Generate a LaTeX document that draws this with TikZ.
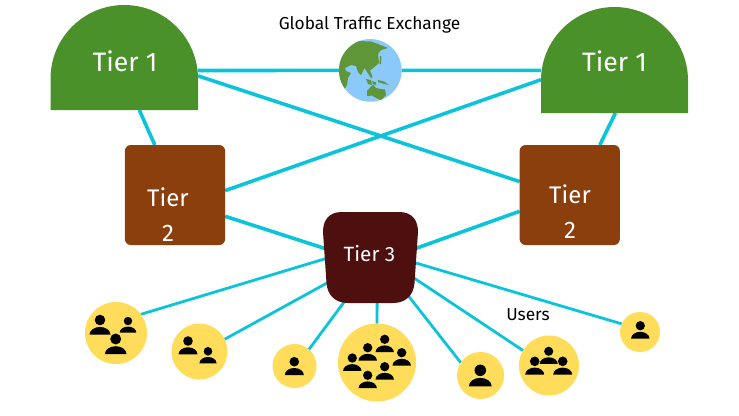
\documentclass[tikz,border=0pt]{standalone}
\usepackage{fontspec}
\setmainfont{Fira Sans}
\usetikzlibrary{backgrounds}
\definecolor{tgreen}{HTML}{4A9129}
\definecolor{tbrown}{HTML}{8A3F0D}
\definecolor{tdark}{HTML}{4E0F0F}
\definecolor{tyellow}{HTML}{FFDC5A}
\definecolor{tcyan}{HTML}{0BC4D9}
\definecolor{tblue}{HTML}{8BC9FB}
\definecolor{tland}{HTML}{5F9638}
\tikzset{
  link/.style={draw=tcyan,line width=2.7pt},
  thinlink/.style={draw=tcyan,line width=2.1pt},
  bounds/.style={rectangle,inner sep=0pt,outer sep=0pt,minimum width=#1},
  tiertwo/.style={rectangle,rounded corners=4.5pt,fill=tbrown,inner sep=0pt,outer sep=0pt,minimum width=75.2pt,minimum height=75pt},
  usr/.style={circle,fill=tyellow,inner sep=0pt,outer sep=0pt,minimum size=#1*1.5pt},
  biglabel/.style={text=white,inner sep=0pt,font=\fontsize{20}{26}\selectfont,align=center},
  midlabel/.style={text=white,inner sep=0pt,font=\fontsize{15.5}{18}\selectfont},
  caption/.style={text=black,inner sep=0pt,font=\fontsize{13}{15}\selectfont},
}
\newcommand{\person}[3]{%
  \begin{scope}[shift={(#1,#2)},scale=#3]
    \fill[black] (0,0) circle[radius=4.8];
    \fill[black] (-9.5,13.3) arc[start angle=180,end angle=360,x radius=9.5,y radius=7] -- cycle;
  \end{scope}}
\begin{document}
\begin{tikzpicture}[x=0.75pt,y=-0.75pt]
\useasboundingbox (0,0) rectangle (739,415);
% tier 1 shapes
\fill[tgreen] (50.5,110) -- (50.5,78.75) arc[start angle=180,end angle=360,radius=73.75] -- (198,110) -- cycle;
\fill[tgreen] (541,113) -- (541,80.5) arc[start angle=180,end angle=360,radius=73.5] -- (688,113) -- cycle;
\node[bounds=110.6pt,minimum height=78.75pt] (t1l) at (124.25,57.5) {};
\node[bounds=110.25pt,minimum height=79.5pt] (t1r) at (614.5,60) {};
\node[biglabel] (t1ltext) at (125,61) {Tier 1};
\node[biglabel] (t1rtext) at (614.5,61) {Tier 1};
% tier 2
\node[tiertwo] (t2l) at (175,195) {};
\node[tiertwo] (t2r) at (569.75,195) {};
\node[biglabel,font=\fontsize{18}{26.2}\selectfont] (t2ltext) at (168,214.5) {Tier\\2};
\node[biglabel,font=\fontsize{18}{26.2}\selectfont] (t2rtext) at (570,211.5) {Tier\\2};
% tier 3
\fill[tdark] (342,212) -- (399,212) .. controls (412,212) and (418,220) .. (418,232)
  -- (414.5,283) .. controls (413.5,296) and (405,303) .. (393,303)
  -- (348,303) .. controls (336,303) and (327.5,296) .. (326.5,283)
  -- (323,232) .. controls (323,220) and (329,212) .. (342,212) -- cycle;
\node[bounds=60.75pt,minimum height=57pt] (t3) at (370.5,258) {};
\node[midlabel] (t3text) at (369.5,254) {Tier 3};
% globe
\node[circle,fill=tblue,inner sep=0pt,outer sep=0pt,minimum size=47pt] (globe) at (370.3,70.4) {};
\begin{scope}
  \clip (370.3,70.4) circle[radius=31.3];
  \fill[tland] (335,62) -- (345,48) -- (358,41) -- (371,41.5) -- (378,44) -- (388,48) -- (381,50) -- (378,54) -- (379,63) -- (372,69) -- (370,70) -- (372.5,77) -- (371,78) -- (367,72) -- (364.5,68) -- (361,75) -- (358,72) -- (356,66) -- (351,65) -- (345,68) -- (346,71) -- (351,73) -- (348,78) -- (347,85) -- (344,90) -- (339,85) -- (335,70) -- cycle;
  \fill[tland] (380,56) -- (381.5,56.5) -- (381,64) -- (379.5,64) -- cycle;
  \fill[tland] (366,79) -- (371,80) -- (372,85) -- (368,84) -- cycle;
  \fill[tland] (372,81) -- (376,82.5) -- (376,85) -- (373,84) -- cycle;
  \fill[tland] (378,80) -- (384,81.5) -- (389,85) -- (383,83.5) -- (378,82) -- cycle;
  \fill[tland] (367,91) -- (373,84.5) -- (376,88) -- (381,89) -- (385,89.5) -- (386,95) -- (381,100) -- (376,98) -- (372,95.5) -- (367,96) -- cycle;
\end{scope}
% users
\node[usr=31] (u1) at (116,333) {};
\node[usr=28] (u2) at (199.5,351.5) {};
\node[usr=22] (u3) at (294.5,366) {};
\node[usr=39] (u4) at (377,362.5) {};
\node[usr=23.5] (u5) at (480.5,375.5) {};
\node[usr=30] (u6) at (549,365.5) {};
\node[usr=20] (u7) at (640,332) {};
\person{100}{320}{1.1}
\person{128}{321}{.88}
\person{115.7}{339}{1.14}
\person{188}{341}{1}
\person{208}{351.3}{.9}
\person{294.3}{361.7}{1}
\person{384.7}{339.3}{.97}
\person{367.7}{347.7}{.97}
\person{401.7}{352.7}{.97}
\person{352.3}{358}{.97}
\person{384.7}{366.7}{.97}
\person{367.7}{375.3}{.97}
\person{480.3}{370.3}{1.2}
\person{548.7}{351.3}{.95}
\person{534.7}{361.3}{1}
\person{562.7}{361.3}{1}
\person{640.3}{325.7}{.97}
% captions
\node[caption] (gte) at (369.5,25) {Global Traffic Exchange};
\node[caption] (users) at (528,315) {Users};
% connectors
\begin{scope}[on background layer]
  \draw[link] (t1l.-10) -- (globe.west);
  \draw[link] (globe.east) -- (t1r.188.13);
  \draw[link] (t1l.-14.45) -- (t2r.165.5);
  \draw[link] (t1r.195.9) -- (t2l.5.7);
  \draw[link] (t1l.-74.3) -- (t2l.112.8);
  \draw[link] (t1r.-89.5) -- (t2r.59.7);
  \draw[link] (t2l.-23.7) -- (t3.169.1);
  \draw[link] (t2r.198.7) -- (t3.11);
  \draw[thinlink] (t3.179.3) -- (u1.37);
  \draw[thinlink] (t3.210.4) -- (u2.26.1);
  \draw[thinlink] (t3.240.8) -- (u3.49.5);
  \draw[thinlink] (t3.-80.3) -- (u4.90);
  \draw[thinlink] (t3.-45.2) -- (u5.147.3);
  \draw[thinlink] (t3.-24.3) -- (u6.150.9);
  \draw[thinlink] (t3.-5.4) -- (u7.156);
\end{scope}
\end{tikzpicture}
\end{document}
